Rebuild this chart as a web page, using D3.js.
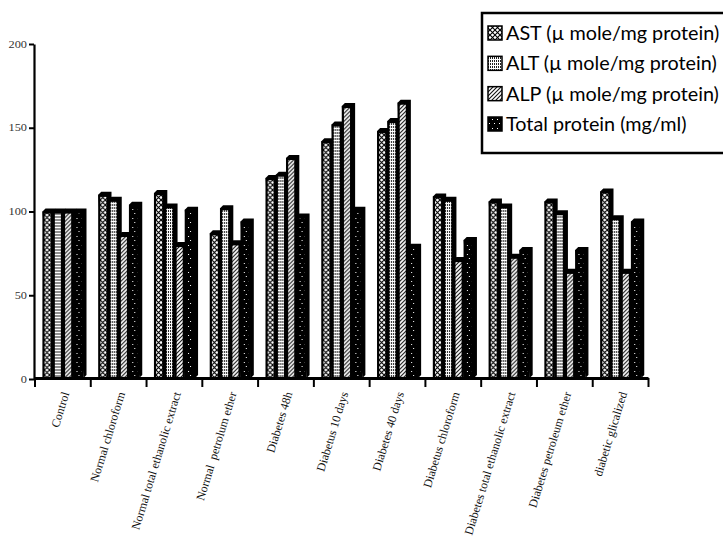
<!DOCTYPE html>
<html>
<head>
<meta charset="utf-8">
<script src="https://cdn.jsdelivr.net/npm/d3@7"></script>
<style>
  body { margin: 0; background: #fff; }
  text { white-space: pre; }
</style>
</head>
<body>
<svg id="chart" width="723" height="538"></svg>
<script>
// Groups along the x axis
const categories = [
  "Control", "Normal chloroform", "Normal total ethanolic extract", "Normal  petrolum ether",
  "Diabetes 48h", "Diabetus 10 days", "Diabetes 40 days", "Diabetus chloroform",
  "Diabetes total ethanolic extract", "Diabetes petroleum ether", "diabetic glicalized"
];
// Series names (legend order)
const seriesNames = [
  "AST (\u00b5 mole/mg protein)", "ALT (\u00b5 mole/mg protein)",
  "ALP (\u00b5 mole/mg protein)", "Total protein (mg/ml)"
];
// Values, % of control
const ast          = [100, 110, 111, 87, 120, 142, 148, 109, 106, 106, 112];
const alt          = [100, 107, 103, 102, 122, 152, 154, 107, 103, 99, 96];
const alp          = [100, 86, 80, 81, 132, 163, 165, 71, 73, 64, 64];
const totalProtein = [100, 104, 101, 94, 97, 101, 79, 83, 77, 77, 94];
const yTicks = [0, 50, 100, 150, 200];

const seriesValues = [ast, alt, alp, totalProtein];
const patternIds = ["pAST", "pALT", "pALP", "pTP"];

const svg = d3.select("#chart");
const defs = svg.append("defs");

// Fill patterns
function pattern(id, w, h) {
  return defs.append("pattern").attr("id", id)
    .attr("patternUnits", "userSpaceOnUse").attr("width", w).attr("height", h);
}
let p = pattern("pAST", 5, 5);
p.append("rect").attr("width", 5).attr("height", 5).attr("fill", "#fff");
p.append("path").attr("d", "M0,0L5,5M5,0L0,5").attr("stroke", "#000").attr("stroke-width", 1.1);

p = pattern("pALT", 2, 3);
p.append("rect").attr("width", 2).attr("height", 3).attr("fill", "#fff");
p.append("rect").attr("width", 1).attr("height", 2).attr("fill", "#222");

p = pattern("pALP", 4, 4);
p.append("rect").attr("width", 4).attr("height", 4).attr("fill", "#fff");
p.append("path").attr("d", "M0,4L4,0M-1,1L1,-1M3,5L5,3").attr("stroke", "#111").attr("stroke-width", 1.1);

p = pattern("pTP", 5, 9);
p.append("rect").attr("width", 5).attr("height", 9).attr("fill", "#000");
p.append("rect").attr("x", 2).attr("y", 2).attr("width", 1).attr("height", 1).attr("fill", "#fff");
p.append("rect").attr("x", 4).attr("y", 6).attr("width", 1).attr("height", 1).attr("fill", "#fff");

// Scales
const y = d3.scaleLinear().domain([0, 200]).range([379, 44]);
const x0 = d3.scaleBand().domain(categories).range([34.5, 648]).padding(0);
const x1 = d3.scaleBand().domain(seriesNames).range([8, 49]).padding(0);
const xEdge = d3.scaleLinear().domain([0, categories.length]).range([34.5, 648]);
const depth = 3;

// Bars with a small 3D offset shading
const groups = svg.append("g").selectAll("g")
  .data(categories).join("g")
  .attr("transform", d => `translate(${x0(d)},0)`);

groups.each(function (cat, gi) {
  const g = d3.select(this);
  seriesNames.forEach((s, si) => {
    const v = seriesValues[si][gi];
    const bx = x1(s), bw = x1.bandwidth();
    const top = y(v), bottom = y(0) - 1;
    g.append("path")
      .attr("d", `M${bx},${top}L${bx + depth},${top - depth}L${bx + bw + depth},${top - depth}` +
                 `L${bx + bw + depth},${bottom - depth}L${bx + bw},${bottom}Z`)
      .attr("fill", "#000");
    g.append("rect")
      .attr("x", bx + 1).attr("y", top + 1)
      .attr("width", bw - 2).attr("height", bottom - top - 1)
      .attr("fill", `url(#${patternIds[si]})`)
      .attr("stroke", "#000").attr("stroke-width", 2.2);
  });
});

// Y axis
const yAxis = svg.append("g").attr("transform", "translate(34,0)")
  .call(d3.axisLeft(y).tickValues(yTicks).tickSize(5).tickSizeOuter(0).tickPadding(2));
yAxis.select(".domain").attr("stroke-width", 2.2);
yAxis.selectAll(".tick line").attr("stroke-width", 2);
yAxis.selectAll(".tick text")
  .attr("font-family", "Liberation Serif, serif").attr("font-size", 9.5).attr("fill", "#333")
  .attr("x", null)
  .attr("transform", "translate(-7,0) scale(1.3,1)");

// X axis: boundary ticks between groups
const xAxis = svg.append("g").attr("transform", "translate(0,378)")
  .call(d3.axisBottom(xEdge).ticks(categories.length).tickSize(9).tickSizeOuter(0).tickFormat(""));
xAxis.select(".domain").attr("stroke-width", 3);
xAxis.selectAll(".tick line").attr("stroke-width", 2);

// Category labels
const xLabels = svg.append("g").attr("transform", "translate(0,378)")
  .call(d3.axisBottom(x0).tickSize(0).tickSizeOuter(0));
xLabels.select(".domain").remove();
xLabels.selectAll(".tick text")
  .attr("font-family", "Liberation Serif, serif").attr("font-size", 12).attr("fill", "#111")
  .attr("text-anchor", "end").attr("dy", "0.35em").attr("y", 0)
  .attr("transform", "translate(3,14) rotate(-73)");

// Legend
const legend = svg.append("g");
legend.append("rect").attr("x", 482).attr("y", 13).attr("width", 280).attr("height", 140)
  .attr("fill", "#fff").attr("stroke", "#000").attr("stroke-width", 2.5);
const rowY = d3.scalePoint().domain(seriesNames).range([33, 124]);
seriesNames.forEach((s, i) => {
  const cy = rowY(s);
  legend.append("rect").attr("x", 488).attr("y", cy - 7).attr("width", 14).attr("height", 14)
    .attr("fill", `url(#${patternIds[i]})`).attr("stroke", "#000").attr("stroke-width", 1.5);
  legend.append("text").attr("x", 506).attr("y", cy).attr("dy", "0.35em")
    .attr("font-family", "Lato, sans-serif").attr("font-size", 19.8).attr("fill", "#000")
    .text(s);
});
</script>
</body>
</html>
